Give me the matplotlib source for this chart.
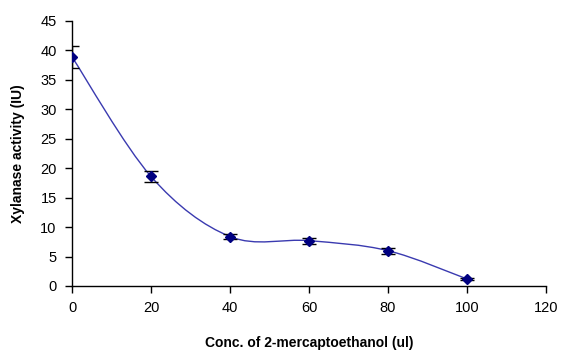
import matplotlib
matplotlib.use("Agg")
import matplotlib.pyplot as plt
from matplotlib.path import Path
from matplotlib.patches import PathPatch

plt.rcParams["font.family"] = ["Liberation Sans", "DejaVu Sans"]

# data
conc = [0, 20, 40, 60, 80, 100]
activity = [38.9, 18.6, 8.4, 7.7, 6.0, 1.2]
err = [1.9, 1.0, 0.5, 0.5, 0.5, 0.2]
xticks = [0, 20, 40, 60, 80, 100, 120]
yticks = [0, 5, 10, 15, 20, 25, 30, 35, 40, 45]

LINE = "#3a3ab0"
MARK = "#000080"


def smooth_path(xs, ys):
    # Excel-style smoothed line: cubic Bezier, control points from neighbours
    pts = list(zip(xs, ys))
    verts = [pts[0]]
    codes = [Path.MOVETO]
    n = len(pts)
    for i in range(n - 1):
        p0 = pts[i - 1] if i > 0 else pts[i]
        p1 = pts[i]
        p2 = pts[i + 1]
        p3 = pts[i + 2] if i + 2 < n else pts[i + 1]
        c1 = (p1[0] + (p2[0] - p0[0]) / 6, p1[1] + (p2[1] - p0[1]) / 6)
        c2 = (p2[0] - (p3[0] - p1[0]) / 6, p2[1] - (p3[1] - p1[1]) / 6)
        verts += [c1, c2, p2]
        codes += [Path.CURVE4] * 3
    return Path(verts, codes)


fig = plt.figure(figsize=(5.85, 3.51), dpi=100)
ax = fig.add_axes([0.1231, 0.1852, 0.8102, 0.755])

ax.add_patch(PathPatch(smooth_path(conc, activity), facecolor="none",
                       edgecolor=LINE, lw=1.0, zorder=2))
ax.errorbar(conc, activity, yerr=err, fmt="none", ecolor="black",
            elinewidth=1.0, capsize=5, capthick=1.0, zorder=3)
ax.plot(conc, activity, "D", color=MARK, ms=5.5, zorder=4)

ax.set_xlim(0, 120)
ax.set_ylim(0, 45)
ax.set_xticks(xticks)
ax.set_yticks(yticks)
for s in ("top", "right"):
    ax.spines[s].set_visible(False)
for s in ("left", "bottom"):
    ax.spines[s].set_linewidth(1.0)
ax.tick_params(direction="out", length=5, width=1.0, labelsize=10.5, pad=6)
ax.set_xlabel("Conc. of 2-mercaptoethanol (ul)", fontsize=10,
              fontweight="bold", labelpad=15)
ax.set_ylabel("Xylanase activity (IU)", fontsize=10, fontweight="bold",
              labelpad=11)

fig.savefig("out.png", dpi=100)
